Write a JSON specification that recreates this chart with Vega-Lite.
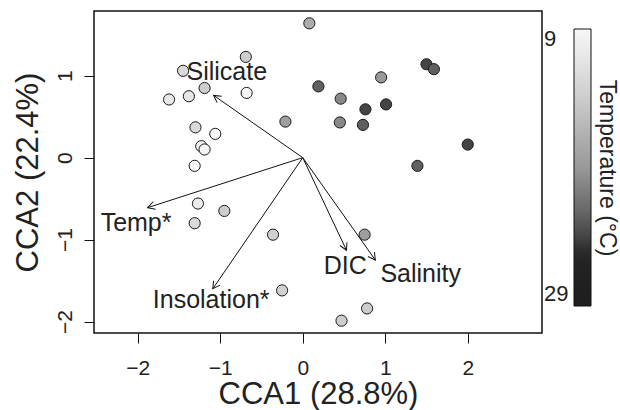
{
  "$schema": "https://vega.github.io/schema/vega-lite/v6.json",
  "width": 448,
  "height": 322,
  "autosize": {"type": "none"},
  "padding": {"left": 94, "top": 11, "right": 78, "bottom": 77},
  "background": "white",
  "config": {
    "view": {"stroke": "#111", "strokeWidth": 1.5},
    "font": "Liberation Sans"
  },
  "datasets": {
    "sites": [
      {"x": -1.45, "y": 1.06, "temp": 12.5},
      {"x": -0.69, "y": 1.23, "temp": 14},
      {"x": -1.19, "y": 0.85, "temp": 14},
      {"x": -1.38, "y": 0.75, "temp": 11},
      {"x": -1.62, "y": 0.71, "temp": 11},
      {"x": -0.68, "y": 0.79, "temp": 9},
      {"x": -0.21, "y": 0.44, "temp": 18.5},
      {"x": -1.30, "y": 0.37, "temp": 12.5},
      {"x": -1.06, "y": 0.29, "temp": 9},
      {"x": -1.23, "y": 0.14, "temp": 9.5},
      {"x": -1.19, "y": 0.10, "temp": 9.5},
      {"x": -1.31, "y": -0.10, "temp": 9},
      {"x": 0.08, "y": 1.64, "temp": 17},
      {"x": 0.19, "y": 0.87, "temp": 22.5},
      {"x": 0.46, "y": 0.72, "temp": 20},
      {"x": 0.45, "y": 0.43, "temp": 20},
      {"x": 0.76, "y": 0.59, "temp": 24},
      {"x": 0.73, "y": 0.40, "temp": 22.5},
      {"x": 0.95, "y": 0.98, "temp": 19},
      {"x": 1.01, "y": 0.65, "temp": 24},
      {"x": 1.50, "y": 1.14, "temp": 24},
      {"x": 1.59, "y": 1.08, "temp": 22.5},
      {"x": 2.00, "y": 0.16, "temp": 24},
      {"x": 1.39, "y": -0.10, "temp": 22.5},
      {"x": -1.27, "y": -0.56, "temp": 10.5},
      {"x": -0.95, "y": -0.65, "temp": 14},
      {"x": -1.31, "y": -0.80, "temp": 12.5},
      {"x": -0.36, "y": -0.94, "temp": 13.5},
      {"x": -0.25, "y": -1.62, "temp": 13.5},
      {"x": 0.75, "y": -0.94, "temp": 18.5},
      {"x": 0.78, "y": -1.84, "temp": 14},
      {"x": 0.47, "y": -1.99, "temp": 14}
    ],
    "vectors": [
      {"var": "Silicate", "x": -1.08, "y": 0.76},
      {"var": "Temp", "x": -1.88, "y": -0.61},
      {"var": "Insolation", "x": -1.09, "y": -1.60},
      {"var": "DIC", "x": 0.53, "y": -1.13},
      {"var": "Salinity", "x": 0.88, "y": -1.25}
    ],
    "labels": [
      {"label": "Silicate", "x": -0.92, "y": 1.05},
      {"label": "Temp*", "x": -2.02, "y": -0.80},
      {"label": "Insolation*", "x": -1.11, "y": -1.74},
      {"label": "DIC", "x": 0.515, "y": -1.32},
      {"label": "Salinity", "x": 1.43, "y": -1.415}
    ]
  },
  "encoding": {
    "x": {
      "field": "x", "type": "quantitative",
      "scale": {"domain": [-2.53, 2.9], "nice": false, "zero": false},
      "axis": {
        "values": [-2, -1, 0, 1, 2], "grid": false, "domain": false,
        "tickSize": 10, "tickColor": "#111", "tickWidth": 1,
        "labelFontSize": 21, "labelColor": "#222", "labelPadding": 14,
        "title": "CCA1 (28.8%)", "titleFontSize": 31, "titleFontWeight": "normal",
        "titleColor": "#222", "titlePadding": 1
      }
    },
    "y": {
      "field": "y", "type": "quantitative",
      "scale": {"domain": [-2.14, 1.79], "nice": false, "zero": false},
      "axis": {
        "values": [-2, -1, 0, 1], "grid": false, "domain": false,
        "tickSize": 10, "tickColor": "#111", "tickWidth": 1,
        "labelFontSize": 21, "labelColor": "#222", "labelPadding": 13,
        "labelAngle": -90, "labelAlign": "center", "labelBaseline": "alphabetic",
        "title": "CCA2 (22.4%)", "titleFontSize": 31, "titleFontWeight": "normal",
        "titleColor": "#222", "titlePadding": 10
      }
    }
  },
  "layer": [
    {
      "mark": {"type": "rule", "strokeDash": [1.5, 3], "color": "#444", "strokeWidth": 1},
      "encoding": {"x": {"datum": 0, "type": "quantitative"}, "y": null}
    },
    {
      "mark": {"type": "rule", "strokeDash": [1.5, 3], "color": "#444", "strokeWidth": 1},
      "encoding": {"y": {"datum": 0, "type": "quantitative"}, "x": null}
    },
    {
      "data": {"name": "sites"},
      "mark": {"type": "circle", "size": 125, "opacity": 1, "stroke": "#1a1a1a", "strokeWidth": 1},
      "encoding": {
        "color": {
          "field": "temp", "type": "quantitative",
          "scale": {
            "domain": [29, 25.4, 24, 22, 19, 14, 9],
            "range": ["#1e1e1e", "#232323", "#444444", "#6a6a6a", "#999999", "#cdcdcd", "#f8f8f8"]
          },
          "legend": {
            "orient": "none", "legendX": 480, "legendY": 18,
            "direction": "vertical",
            "gradientLength": 277, "gradientThickness": 17,
            "gradientStrokeColor": "#111", "gradientStrokeWidth": 1,
            "values": [9, 29],
            "labelFontSize": 22, "labelColor": "#222",
            "labelOffset": -47,
            "labelExpr": "datum.value == 9 ? '\u2007' + datum.label : datum.label",
            "title": "Temperature (°C)", "titleFontSize": 23, "titleFontWeight": "normal",
            "titleColor": "#222", "titleOrient": "right", "titleAngle": 90,
            "titleAnchor": "middle", "titlePadding": 3
          }
        }
      }
    },
    {
      "data": {"name": "vectors"},
      "mark": {"type": "rule", "color": "#111", "strokeWidth": 1},
      "encoding": {
        "x2": {"datum": 0},
        "y2": {"datum": 0}
      }
    },
    {
      "data": {"name": "vectors"},
      "transform": [{"calculate": "atan2(-datum.y, datum.x) * 180 / PI", "as": "ang"}],
      "mark": {"type": "point", "shape": "M -1 -0.55 L 0 0 L -1 0.55", "filled": false, "stroke": "#111", "strokeWidth": 1, "size": 200, "opacity": 1},
      "encoding": {
        "angle": {"field": "ang", "type": "quantitative", "scale": null}
      }
    },
    {
      "data": {"name": "labels"},
      "mark": {"type": "text", "fontSize": 25, "color": "#222", "align": "center", "baseline": "middle"},
      "encoding": {"text": {"field": "label"}}
    }
  ]
}
